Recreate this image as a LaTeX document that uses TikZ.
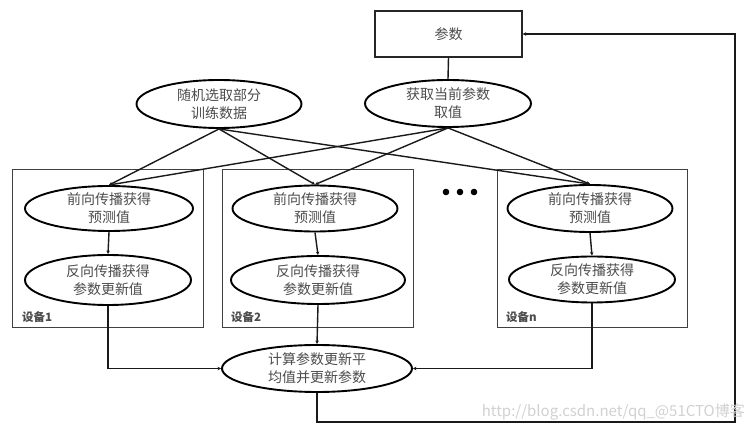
\documentclass[tikz,border=0pt]{standalone}
\usepackage{fontspec}
\setmainfont{Noto Sans CJK SC}
\usetikzlibrary{shapes.geometric,arrows.meta}
\begin{document}
\begin{tikzpicture}[x=1pt,y=-1pt,
  ell/.style={ellipse,draw=black,line width=1.9pt,inner sep=0pt,align=center,
    font=\fontsize{14}{18}\selectfont,text=black!70},
  dev/.style={draw=black!75,line width=1pt},
  rect/.style={draw=black!85,line width=1.4pt,inner sep=0pt,font=\fontsize{14}{16}\selectfont,text=black!70},
  link/.style={draw=black!90,line width=1.4pt},
  arr/.style={link,-{Stealth[length=3.5pt,width=3.5pt]}},
  devlabel/.style={anchor=west,inner sep=0pt,font=\fontsize{11.5}{13}\selectfont\bfseries,text=black!70}]
\useasboundingbox (0,0) rectangle (748,435);
\fill[white] (0,0) rectangle (748,435);
% device boxes
\draw[dev] (12,170) rectangle (203,328);
\draw[dev] (222,170) rectangle (413,328);
\draw[dev] (497,170) rectangle (687,328);
\node[devlabel] (l1) at (22,317) {设备1};
\node[devlabel] (l2) at (231,317) {设备2};
\node[devlabel] (ln) at (506,317) {设备n};
% dots
\fill (446,192) circle (3.3) (460,192) circle (3.3) (474,192) circle (3.3);
% nodes
\node[rect,minimum width=147pt,minimum height=46pt] (param) at (448.5,34) {参数};
\node[ell,minimum width=165pt,minimum height=48pt] (rand) at (219,104) {随机选取部分\\训练数据};
\node[ell,minimum width=166pt,minimum height=47pt] (get) at (448,103.5) {获取当前参数\\取值};
\node[ell,minimum width=168pt,minimum height=45pt] (f1) at (109,208.5) {前向传播获得\\预测值};
\node[ell,minimum width=166pt,minimum height=50pt] (b1) at (108,280) {反向传播获得\\参数更新值};
\node[ell,minimum width=165pt,minimum height=46pt] (f2) at (315,208.5) {前向传播获得\\预测值};
\node[ell,minimum width=174pt,minimum height=48pt] (b2) at (318,280) {反向传播获得\\参数更新值};
\node[ell,minimum width=165pt,minimum height=47pt] (fn) at (590,208.5) {前向传播获得\\预测值};
\node[ell,minimum width=166pt,minimum height=46pt] (bn) at (592,279.5) {反向传播获得\\参数更新值};
\node[ell,minimum width=190pt,minimum height=47pt] (avg) at (317,368.5) {计算参数更新平\\均值并更新参数};
% connectors
\draw[link] (param.south) -- (get.north);
\foreach \t in {f1,f2,fn}{
  \draw[arr] (rand.south) -- (\t.north);
  \draw[arr] (get.south) -- (\t.north);
}
\draw[arr] (f1.south) -- (b1.north);
\draw[arr] (f2.south) -- (b2.north);
\draw[arr] (fn.south) -- (bn.north);
\draw[arr] (b1.south) |- (avg.west);
\draw[arr] (b2.south) -- (avg.north);
\draw[arr] (bn.south) |- (avg.east);
\coordinate (c1) at (735,422);
\draw[arr] (avg.south) |- (c1) |- (param.east);
% watermark
\node[anchor=east,inner sep=0pt,font=\fontsize{15}{17}\selectfont,text=black!18] (wm) at (745,412) {http://blog.csdn.net/qq\_@51CTO博客};
\end{tikzpicture}
\end{document}
